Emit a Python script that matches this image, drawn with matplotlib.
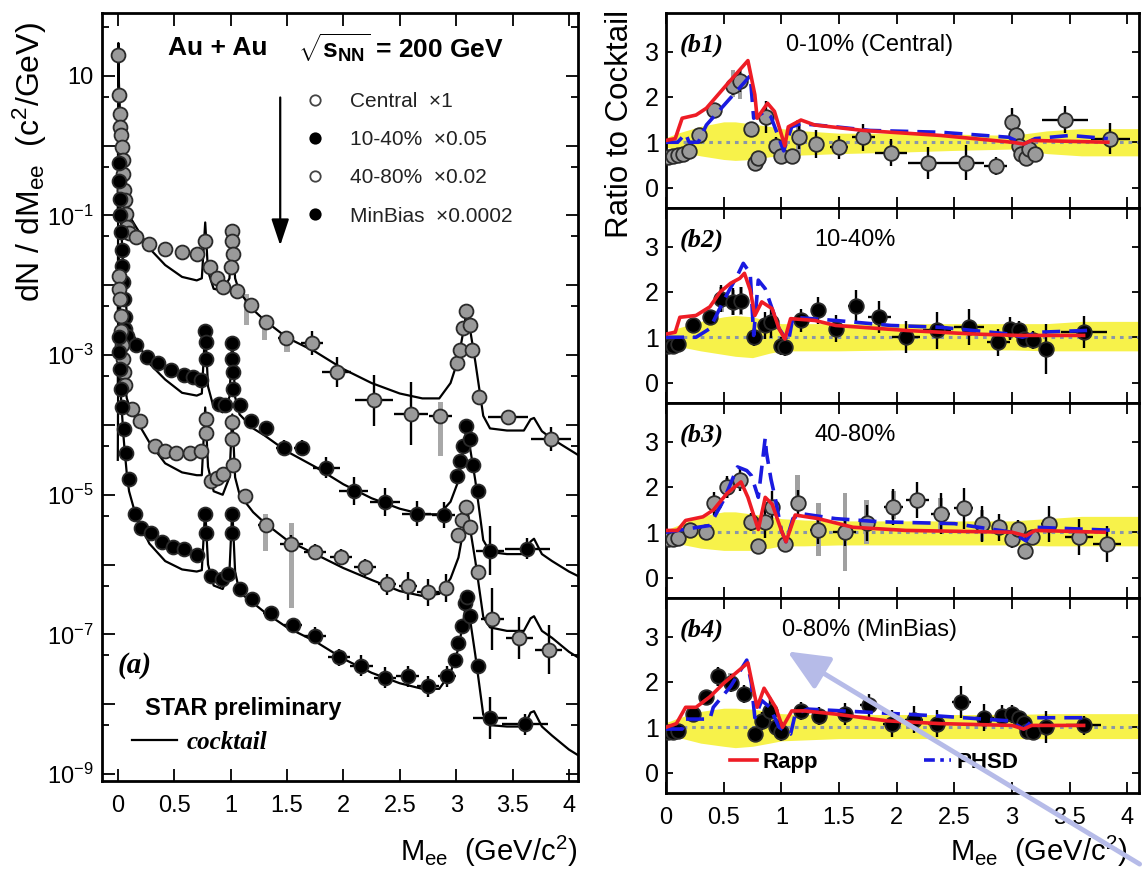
import numpy as np
import matplotlib
matplotlib.use('Agg')
import matplotlib.pyplot as plt
from matplotlib.ticker import FixedLocator, FuncFormatter, NullFormatter
from matplotlib.patches import FancyArrowPatch
from matplotlib.lines import Line2D
from matplotlib.font_manager import FontProperties

plt.rcParams['font.family'] = ['Liberation Sans', 'DejaVu Sans']
plt.rcParams['mathtext.fontset'] = 'custom'
plt.rcParams['mathtext.rm'] = 'Liberation Sans'
plt.rcParams['mathtext.it'] = 'Liberation Sans:italic'
plt.rcParams['mathtext.bf'] = 'Liberation Sans:bold'

# ---------------- panel (a): log10 of dN/dM_ee ----------------
central_x = [0.005, 0.012, 0.018, 0.024, 0.03, 0.036, 0.042, 0.05, 0.058, 0.066, 0.075, 0.085, 0.095,
             0.16, 0.28, 0.42, 0.57, 0.70, 0.775, 0.82, 0.88, 0.93, 1.01, 1.015, 1.02, 1.005, 1.06,
             1.18, 1.31, 1.49, 1.72, 1.94, 2.27, 2.60, 2.86,
             3.01, 3.03, 3.06, 3.09, 3.12, 3.14, 3.20, 3.46, 3.84]
central_log = [1.30, 0.73, 0.46, 0.27, 0.15, -0.02, -0.21, -0.40, -0.64, -0.78, -0.98, -1.17, -1.25,
               -1.31, -1.41, -1.48, -1.53, -1.55, -1.36, -1.74, -1.89, -2.03, -1.22, -1.36, -1.55, -1.74, -2.08,
               -2.28, -2.52, -2.76, -2.83, -3.24, -3.65, -3.84, -3.87,
               -3.12, -2.93, -2.61, -2.37, -2.57, -2.93, -3.60, -3.89, -4.20]
central_dx = [0] * 27 + [0.04, 0.05, 0.07, 0.10, 0.13, 0.17, 0.15, 0.10, 0, 0, 0, 0, 0, 0, 0.03, 0.18, 0.18]
central_dlog = [0] * 27 + [0.06, 0.08, 0.08, 0.17, 0.22, 0.36, 0.45, 0.08, 0, 0, 0, 0, 0, 0, 0.1, 0.1, 0.17]

semi_x = [0.008, 0.013, 0.018, 0.023, 0.028, 0.033, 0.038, 0.045, 0.052, 0.06, 0.068,
          0.08, 0.16, 0.26, 0.36, 0.47, 0.59, 0.67, 0.74, 0.775, 0.78, 0.785, 0.90, 0.95,
          1.01, 1.015, 1.02, 1.025, 1.08,
          1.18, 1.31, 1.47, 1.63, 1.85, 2.09, 2.37, 2.65, 2.89,
          3.01, 3.03, 3.06, 3.09, 3.12, 3.15, 3.19, 3.30, 3.63]
semi_log = [-0.25, -0.5, -0.77, -1.0, -1.24, -1.5, -1.72, -1.95, -2.2, -2.45, -2.63,
            -2.73, -2.86, -3.02, -3.12, -3.22, -3.29, -3.31, -3.36, -2.66, -2.81, -3.05, -3.70, -3.72,
            -2.83, -3.05, -3.24, -3.48, -3.72,
            -3.94, -4.04, -4.33, -4.33, -4.61, -4.95, -5.10, -5.27, -5.29,
            -4.73, -4.52, -4.30, -4.01, -4.20, -4.57, -4.95, -5.80, -5.77]
semi_dx = [0] * 29 + [0.04, 0.05, 0.07, 0.07, 0.12, 0.13, 0.13, 0.13, 0.10] + [0] * 7 + [0.12, 0.2]
semi_dlog = [0] * 29 + [0.08, 0.1, 0.12, 0.12, 0.15, 0.2, 0.2, 0.18, 0.18] + [0] * 7 + [0.35, 0.15]

periph_x = [0.008, 0.014, 0.02, 0.026, 0.032, 0.038, 0.045, 0.052, 0.065,
            0.13, 0.20, 0.33, 0.42, 0.52, 0.64, 0.74, 0.78, 0.785, 0.83, 0.88, 0.93, 1.01, 1.015, 1.02,
            1.13, 1.31, 1.54, 1.75, 1.98, 2.19, 2.39, 2.57, 2.75, 2.91,
            3.02, 3.05, 3.09, 3.12, 3.19, 3.32, 3.56, 3.82]
periph_log = [-1.87, -2.06, -2.2, -2.44, -2.65, -2.85, -3.05, -3.24, -3.43,
              -3.77, -3.94, -4.30, -4.37, -4.40, -4.40, -4.37, -3.92, -4.11, -4.81, -4.76, -4.71, -3.96, -4.2, -4.57,
              -5.02, -5.43, -5.70, -5.82, -5.89, -6.04, -6.28, -6.31, -6.40, -6.33,
              -5.58, -5.36, -5.17, -5.46, -6.11, -6.78, -7.05, -7.22]
periph_dx = [0] * 24 + [0.04, 0.07, 0.1, 0.1, 0.1, 0.1, 0.08, 0.08, 0.1, 0.05] + [0] * 5 + [0.1, 0.12, 0.12]
periph_dlog = [0] * 24 + [0.08, 0.1, 0.12, 0.12, 0.12, 0.12, 0.15, 0.2, 0.2, 0.2] + [0] * 5 + [0.45, 0.3, 0.35]

minb_x = [0.008, 0.015, 0.022, 0.03, 0.04, 0.055, 0.075, 0.1,
          0.15, 0.21, 0.29, 0.39, 0.49, 0.59, 0.70, 0.775, 0.78, 0.83, 0.92, 0.98, 1.01, 1.015,
          1.08, 1.19, 1.36, 1.55, 1.75, 1.96, 2.16, 2.37, 2.57, 2.75, 2.92,
          2.99, 3.02, 3.05, 3.08, 3.10, 3.12, 3.19, 3.30, 3.61]
minb_log = [-2.74, -2.95, -3.2, -3.48, -3.75, -4.06, -4.4, -4.78,
            -5.27, -5.48, -5.55, -5.67, -5.75, -5.77, -5.87, -5.27, -5.55, -6.16, -6.21, -6.14, -5.27, -5.55,
            -6.35, -6.50, -6.69, -6.86, -7.02, -7.33, -7.45, -7.62, -7.60, -7.74, -7.60,
            -7.36, -7.12, -6.88, -6.55, -6.47, -6.74, -7.45, -8.20, -8.29]
minb_dx = [0] * 22 + [0.03, 0.05, 0.07, 0.08, 0.1, 0.1, 0.1, 0.1, 0.1, 0.1, 0.08] + [0] * 7 + [0.15, 0.2]
minb_dlog = [0] * 22 + [0.06, 0.08, 0.1, 0.1, 0.12, 0.12, 0.15, 0.15, 0.15, 0.15, 0.15] + [0] * 7 + [0.3, 0.15]

# cocktail curves (log10), common mass grid
ck_x = [0.0, 0.005, 0.01, 0.02, 0.03, 0.04, 0.05, 0.06, 0.08, 0.1, 0.16, 0.28, 0.42, 0.57, 0.70, 0.745,
        0.775, 0.80, 0.85, 0.93, 0.99, 1.015, 1.04, 1.08, 1.2, 1.3, 1.5, 1.75, 2.0, 2.25, 2.5, 2.7,
        2.85, 2.95, 3.02, 3.07, 3.095, 3.12, 3.17, 3.24, 3.3, 3.45, 3.6, 3.66, 3.69, 3.76, 3.85, 4.0, 4.1]
ck_central = [-1.0, 1.47, 0.9, 0.45, 0.15, -0.1, -0.35, -0.55, -0.85, -1.0, -1.16, -1.47, -1.71, -1.88, -1.93, -1.90,
              -1.10, -1.80, -2.05, -2.08, -1.90, -1.20, -1.90, -2.10, -2.35, -2.50, -2.75, -2.95, -3.20, -3.40, -3.55, -3.62,
              -3.62, -3.40, -3.05, -2.60, -2.33, -2.60, -3.10, -3.87, -4.05, -4.08, -4.08, -3.92, -3.90, -4.09, -4.20, -4.35, -4.45]
ck_semi = [-2.5, -0.05, -0.3, -0.75, -1.15, -1.5, -1.8, -2.05, -2.4, -2.6, -2.78, -3.12, -3.35, -3.54, -3.58, -3.55,
           -2.62, -3.45, -3.75, -3.82, -3.6, -2.78, -3.6, -3.85, -4.05, -4.15, -4.38, -4.6, -4.85, -5.05, -5.2, -5.28,
           -5.28, -5.1, -4.8, -4.3, -4.0, -4.3, -4.8, -5.65, -5.82, -5.85, -5.85, -5.67, -5.63, -5.85, -5.95, -6.1, -6.18]
ck_periph = [-3.5, -1.6, -1.9, -2.3, -2.65, -2.95, -3.2, -3.4, -3.62, -3.72, -3.92, -4.25, -4.55, -4.68, -4.72, -4.72,
             -3.75, -4.6, -4.95, -5.0, -4.75, -3.85, -4.75, -5.0, -5.25, -5.4, -5.65, -5.85, -6.05, -6.22, -6.38, -6.45,
             -6.42, -6.2, -5.9, -5.45, -5.15, -5.45, -5.95, -6.75, -6.9, -6.95, -6.95, -6.77, -6.74, -6.95, -7.05, -7.25, -7.35]
ck_minb = [-4.5, -2.7, -3.0, -3.35, -3.65, -3.9, -4.15, -4.35, -4.7, -4.95, -5.3, -5.7, -5.95, -6.07, -6.1, -6.08,
           -5.2, -6.0, -6.3, -6.35, -6.1, -5.2, -6.1, -6.4, -6.55, -6.68, -6.9, -7.1, -7.35, -7.55, -7.7, -7.78,
           -7.78, -7.55, -7.2, -6.75, -6.45, -6.75, -7.3, -8.15, -8.3, -8.32, -8.32, -8.12, -8.1, -8.32, -8.45, -8.65, -8.75]

# systematic bars (log10 low / high)
sys_central_x = [1.14, 1.30, 1.50, 2.86]
sys_central_lo = [-2.57, -2.78, -2.95, -4.45]
sys_central_hi = [-2.13, -2.49, -2.71, -3.67]
sys_periph_x = [1.31, 1.54]
sys_periph_lo = [-5.8, -6.62]
sys_periph_hi = [-5.27, -5.41]

legend_labels = ['Central  \u00d71', '10-40%  \u00d70.05', '40-80%  \u00d70.02', 'MinBias  \u00d70.0002']

# ---------------- panels (b1)-(b4): ratio to cocktail ----------------
r1_x = [0.02, 0.06, 0.1, 0.15, 0.2, 0.29, 0.42, 0.58, 0.64, 0.74, 0.77, 0.80, 0.87, 0.95, 1.0, 1.09, 1.15, 1.30,
        1.5, 1.71, 1.95, 2.27, 2.6, 2.86, 3.0, 3.03, 3.06, 3.08, 3.12, 3.15, 3.2, 3.46, 3.85]
r1_y = [0.68, 0.69, 0.71, 0.73, 0.80, 1.15, 1.71, 2.24, 2.35, 1.3, 0.55, 0.65, 1.55, 0.92, 0.70, 0.70, 1.11, 0.96,
        0.89, 1.11, 0.77, 0.55, 0.55, 0.47, 1.45, 1.15, 0.92, 0.73, 0.65, 0.84, 0.73, 1.50, 1.08]
r1_dx = [0] * 16 + [0.03, 0.05, 0.08, 0.1, 0.14, 0.17, 0.16, 0.1] + [0] * 6 + [0.03, 0.2, 0.17]
r1_dy = [0.05, 0.05, 0.05, 0.05, 0.05, 0.1, 0.12, 0.2, 0.25, 0.15, 0.1, 0.1, 0.35, 0.2, 0.1, 0.15, 0.25, 0.3,
         0.25, 0.3, 0.3, 0.35, 0.38, 0.2, 0.3, 0.15, 0.1, 0.15, 0.15, 0.1, 0.15, 0.3, 0.35]

r2_x = [0.02, 0.06, 0.1, 0.23, 0.38, 0.48, 0.58, 0.65, 0.76, 0.86, 0.91, 1.0, 1.03, 1.17, 1.32, 1.47, 1.65, 1.85,
        2.08, 2.35, 2.63, 2.88, 2.98, 3.06, 3.1, 3.18, 3.29, 3.62]
r2_y = [0.81, 0.8, 0.85, 1.26, 1.44, 1.85, 1.78, 1.81, 1.0, 1.26, 1.33, 0.81, 0.78, 1.37, 1.59, 1.19, 1.7, 1.44,
        1.0, 1.15, 1.22, 0.89, 1.19, 1.15, 0.96, 0.93, 0.74, 1.11]
r2_dx = [0] * 13 + [0.05, 0.05, 0.05, 0.07, 0.1, 0.12, 0.12, 0.13, 0.1, 0, 0, 0, 0.03, 0.05, 0.2]
r2_dy = [0.05, 0.05, 0.05, 0.12, 0.15, 0.3, 0.3, 0.3, 0.2, 0.3, 0.35, 0.2, 0.2, 0.25, 0.3, 0.3, 0.35, 0.35,
         0.35, 0.4, 0.4, 0.3, 0.25, 0.2, 0.15, 0.2, 0.55, 0.35]

r3_x = [0.02, 0.06, 0.1, 0.21, 0.35, 0.42, 0.53, 0.64, 0.74, 0.8, 0.86, 0.92, 1.03, 1.14, 1.32, 1.55, 1.74, 1.97,
        2.18, 2.38, 2.58, 2.74, 2.89, 3.0, 3.05, 3.11, 3.17, 3.32, 3.58, 3.82]
r3_y = [0.85, 0.85, 0.88, 1.05, 1.0, 1.64, 2.0, 2.15, 1.23, 0.7, 1.23, 1.56, 0.74, 1.64, 1.05, 1.0, 1.2, 1.56,
        1.71, 1.41, 1.53, 1.18, 1.11, 0.85, 1.08, 0.59, 0.89, 1.18, 0.89, 0.74]
r3_dx = [0] * 13 + [0.05, 0.07, 0.1, 0.05, 0.08, 0.1, 0.08, 0.08, 0.05, 0.05, 0, 0, 0, 0, 0.07, 0.12, 0.12]
r3_dy = [0.05, 0.05, 0.05, 0.1, 0.1, 0.25, 0.25, 0.25, 0.2, 0.15, 0.35, 0.35, 0.15, 0.3, 0.3, 0.3, 0.4, 0.4,
         0.4, 0.45, 0.45, 0.4, 0.3, 0.2, 0.2, 0.15, 0.15, 0.4, 0.4, 0.4]

r4_x = [0.02, 0.06, 0.1, 0.23, 0.35, 0.45, 0.56, 0.68, 0.77, 0.83, 0.9, 0.95, 1.0, 1.17, 1.33, 1.55, 1.76, 1.96,
        2.15, 2.35, 2.56, 2.76, 2.91, 3.0, 3.06, 3.1, 3.13, 3.18, 3.29, 3.62]
r4_y = [0.89, 0.89, 0.92, 1.3, 1.67, 2.12, 1.97, 1.74, 0.85, 1.14, 1.36, 1.0, 0.89, 1.36, 1.25, 1.29, 1.48, 1.08,
        1.17, 1.08, 1.55, 1.21, 1.25, 1.29, 1.21, 1.1, 0.92, 0.89, 1.0, 1.04]
r4_dx = [0] * 13 + [0.05, 0.05, 0.07, 0.08, 0.08, 0.08, 0.08, 0.08, 0.08, 0.05, 0, 0, 0, 0, 0, 0.05, 0.15]
r4_dy = [0.05, 0.05, 0.05, 0.1, 0.15, 0.2, 0.2, 0.2, 0.15, 0.2, 0.3, 0.2, 0.2, 0.2, 0.2, 0.25, 0.25, 0.3,
         0.3, 0.3, 0.35, 0.3, 0.25, 0.2, 0.15, 0.1, 0.1, 0.15, 0.35, 0.2]

# systematic boxes (x, low, high)
s1_x, s1_lo, s1_hi = [0.58, 0.64, 1.15], [2.0, 1.95, 0.75], [2.6, 2.6, 1.5]
s2_x, s2_lo, s2_hi = [0.48, 0.58, 0.65], [1.55, 1.5, 1.5], [2.1, 2.05, 2.1]
s3_x = [0.53, 1.14, 1.32, 1.55, 1.74, 1.97, 2.38, 2.74]
s3_lo = [1.75, 1.47, 0.47, 0.14, 0.75, 1.3, 1.05, 0.8]
s3_hi = [2.2, 2.26, 1.64, 1.86, 1.7, 1.9, 1.75, 1.5]
s4_x, s4_lo, s4_hi = [0.45, 0.56], [1.9, 1.8], [2.3, 2.2]

# Rapp (red) and PHSD (blue) model ratios
rapp1_x = [0, 0.08, 0.14, 0.26, 0.35, 0.53, 0.71, 0.77, 0.79, 0.88, 0.94, 1.03, 1.06, 1.17, 1.29, 1.71, 2.38, 3.0, 3.1, 3.17, 3.83]
rapp1_y = [1.04, 1.08, 1.53, 1.6, 1.75, 2.28, 2.8, 2.05, 1.53, 1.86, 1.68, 0.92, 1.34, 1.49, 1.38, 1.26, 1.15, 1.0, 0.96, 1.04, 1.0]
phsd1_x = [0, 0.1, 0.17, 0.2, 0.28, 0.35, 0.56, 0.68, 0.73, 0.76, 0.86, 0.91, 1.02, 1.09, 1.17, 1.47, 1.77, 2.38, 2.97, 3.1, 3.2, 3.5, 3.83]
phsd1_y = [1.0, 1.0, 1.19, 1.0, 1.0, 1.38, 1.98, 2.32, 2.47, 1.53, 1.68, 1.56, 0.81, 1.34, 1.41, 1.34, 1.26, 1.22, 1.11, 0.96, 1.08, 1.15, 1.08]
rapp2_x = [0, 0.08, 0.12, 0.26, 0.38, 0.47, 0.56, 0.64, 0.68, 0.73, 0.77, 0.83, 0.92, 0.98, 1.03, 1.08, 1.29, 1.47, 2.08, 2.68, 3.05, 3.62]
rapp2_y = [1.07, 1.11, 1.44, 1.48, 1.67, 2.0, 2.19, 2.3, 2.41, 2.04, 1.48, 1.78, 1.63, 1.19, 0.96, 1.41, 1.37, 1.26, 1.15, 1.07, 1.04, 1.04]
phsd2_x = [0, 0.26, 0.38, 0.5, 0.62, 0.67, 0.73, 0.76, 0.8, 0.86, 0.92, 0.98, 1.06, 1.1, 1.47, 1.95, 2.38, 2.98, 3.09, 3.23, 3.65]
phsd2_y = [1.0, 1.0, 1.19, 1.81, 2.37, 2.63, 2.41, 1.04, 2.26, 2.07, 1.63, 1.19, 0.89, 1.44, 1.37, 1.26, 1.22, 1.07, 1.0, 1.11, 1.15]
rapp3_x = [0, 0.1, 0.17, 0.32, 0.41, 0.53, 0.65, 0.71, 0.8, 0.86, 0.92, 1.0, 1.04, 1.12, 1.32, 1.62, 2.08, 3.0, 3.12, 3.2, 3.8]
rapp3_y = [1.04, 1.04, 1.26, 1.34, 1.49, 1.86, 2.11, 1.77, 1.06, 1.77, 1.62, 1.04, 0.79, 1.38, 1.3, 1.11, 1.04, 1.0, 0.92, 1.04, 1.0]
phsd3_x = [0, 0.2, 0.38, 0.5, 0.62, 0.7, 0.74, 0.8, 0.86, 0.87, 0.91, 0.95, 1.0, 1.04, 1.1, 1.17, 1.47, 1.86, 2.5, 3.0, 3.12, 3.2, 3.9]
phsd3_y = [1.0, 1.08, 1.15, 1.71, 2.44, 2.36, 2.25, 1.77, 3.08, 2.77, 2.17, 1.71, 1.04, 0.79, 1.3, 1.41, 1.3, 1.23, 1.19, 1.0, 0.81, 1.11, 1.04]
rapp4_x = [0, 0.09, 0.17, 0.26, 0.38, 0.5, 0.71, 0.74, 0.79, 0.85, 0.95, 1.01, 1.09, 1.2, 1.47, 1.92, 2.38, 3.0, 3.1, 3.17, 3.62]
rapp4_y = [1.0, 1.08, 1.44, 1.44, 1.67, 1.97, 2.42, 2.05, 1.44, 1.86, 1.44, 1.0, 1.36, 1.36, 1.29, 1.14, 1.08, 1.04, 0.96, 1.04, 1.04]
phsd4_x = [0, 0.14, 0.17, 0.38, 0.41, 0.56, 0.7, 0.74, 0.77, 0.83, 0.9, 0.98, 1.08, 1.12, 1.23, 1.76, 2.35, 2.98, 3.1, 3.2, 3.65]
phsd4_y = [0.96, 0.96, 1.18, 1.18, 1.44, 1.9, 2.48, 1.97, 1.21, 1.59, 1.44, 1.0, 0.85, 1.29, 1.4, 1.33, 1.25, 1.14, 0.96, 1.21, 1.21]

# cocktail uncertainty bands
band_x = [0, 0.1, 0.3, 0.5, 0.6, 0.75, 0.9, 1.0, 1.2, 1.5, 2.0, 2.5, 3.0, 3.3, 3.6, 4.1]
band1_hi = [1.1, 1.2, 1.35, 1.45, 1.45, 1.4, 1.35, 1.3, 1.25, 1.2, 1.2, 1.18, 1.15, 1.25, 1.3, 1.3]
band1_lo = [0.9, 0.8, 0.7, 0.62, 0.6, 0.62, 0.68, 0.7, 0.72, 0.75, 0.78, 0.82, 0.85, 0.75, 0.7, 0.7]
band2_hi = [1.1, 1.2, 1.35, 1.45, 1.48, 1.45, 1.35, 1.3, 1.3, 1.3, 1.3, 1.3, 1.3, 1.3, 1.35, 1.35]
band2_lo = [0.9, 0.8, 0.7, 0.62, 0.58, 0.55, 0.65, 0.7, 0.7, 0.7, 0.72, 0.72, 0.72, 0.7, 0.7, 0.7]
band3_hi = [1.05, 1.15, 1.35, 1.45, 1.45, 1.4, 1.35, 1.3, 1.27, 1.25, 1.25, 1.25, 1.25, 1.3, 1.35, 1.35]
band3_lo = [0.85, 0.75, 0.65, 0.6, 0.6, 0.6, 0.65, 0.7, 0.7, 0.72, 0.72, 0.72, 0.72, 0.7, 0.7, 0.7]
band4_hi = [1.1, 1.2, 1.35, 1.42, 1.42, 1.4, 1.35, 1.3, 1.28, 1.28, 1.28, 1.28, 1.28, 1.3, 1.3, 1.3]
band4_lo = [0.88, 0.78, 0.65, 0.58, 0.55, 0.58, 0.65, 0.7, 0.72, 0.75, 0.75, 0.75, 0.75, 0.75, 0.75, 0.75]

panel_tags = ['(b1)', '(b2)', '(b3)', '(b4)']
panel_titles = ['0-10% (Central)', '10-40%', '40-80%', '0-80% (MinBias)']

# ---------------------------------------------------------------------------
GRAY = '#9a9a9a'
EDGE = '#2a2a2a'
SERIF_BI = dict(family='Liberation Serif', style='italic', weight='bold')

fig = plt.figure(figsize=(11.42, 8.69), dpi=100)
W, H = 1142.0, 869.0

axL = fig.add_axes([102 / W, 1 - 781 / H, (578 - 102) / W, (781 - 13) / H])
axL.set_yscale('log')
axL.set_xlim(-0.14, 4.08)
axL.set_ylim(10 ** -9.1, 10 ** 1.9)


def lin(v):
    return np.power(10.0, np.asarray(v, dtype=float))


# systematic bars
for sx, slo, shi in [(sys_central_x, sys_central_lo, sys_central_hi), (sys_periph_x, sys_periph_lo, sys_periph_hi)]:
    lo, hi = lin(slo), lin(shi)
    axL.bar(sx, hi - lo, bottom=lo, width=0.045, color='#a8a8a8', edgecolor='none', zorder=1)

ck_lines = []
for ck in [ck_central, ck_semi, ck_periph, ck_minb]:
    ln, = axL.plot(ck_x, lin(ck), color='black', lw=1.6, zorder=3)
    ck_lines.append(ln)

series = [(central_x, central_log, central_dx, central_dlog, GRAY),
          (semi_x, semi_log, semi_dx, semi_dlog, 'black'),
          (periph_x, periph_log, periph_dx, periph_dlog, GRAY),
          (minb_x, minb_log, minb_dx, minb_dlog, 'black')]
for sx, sl, sdx, sdl, col in series:
    y = lin(sl)
    d = np.asarray(sdl)
    axL.errorbar(sx, y, xerr=sdx, yerr=[y - y * 10 ** (-d), y * 10 ** d - y], fmt='none',
                 ecolor='black', elinewidth=1.7, capsize=0, zorder=4)
    axL.plot(sx, y, 'o', ms=10, mfc=col, mec=EDGE, mew=1.3, ls='none', zorder=5)

# axis formatting
axL.xaxis.set_major_locator(FixedLocator([0, 0.5, 1, 1.5, 2, 2.5, 3, 3.5, 4]))
axL.xaxis.set_major_formatter(FuncFormatter(lambda v, p: ('%g' % v)))
axL.yaxis.set_major_locator(FixedLocator([10.0 ** k for k in range(-9, 2)]))


def yfmt(v, p):
    k = int(round(np.log10(v)))
    if k % 2 == 0:
        return ''
    if k == 1:
        return '10'
    return r'$10^{%d}$' % k


axL.yaxis.set_major_formatter(FuncFormatter(yfmt))
axL.yaxis.set_minor_locator(FixedLocator([5 * 10.0 ** k for k in range(-10, 2)]))
axL.yaxis.set_minor_formatter(NullFormatter())
axL.tick_params(which='both', direction='in', top=True, right=True, labelsize=17, width=1.3)
axL.tick_params(which='major', length=9)
axL.tick_params(which='minor', length=5)
axL.tick_params(axis='x', pad=10)
axL.tick_params(axis='y', pad=6)
for s in axL.spines.values():
    s.set_linewidth(2)

axL.text(0.139, 0.954, 'Au + Au', transform=axL.transAxes, fontsize=19, fontweight='bold', va='center')
axL.text(0.412, 0.954, r'$\sqrt{\mathbf{s}_{\mathbf{NN}}}$' + ' = 200 GeV', transform=axL.transAxes,
         fontsize=19, fontweight='bold', va='center')
axL.annotate('', xy=(1.44, 10 ** -1.43), xytext=(1.44, 10 ** 0.69),
             arrowprops=dict(arrowstyle='-|>,head_length=0.9,head_width=0.3', color='black', lw=1.6,
                             mutation_scale=18, shrinkA=0, shrinkB=0))

handles = [Line2D([], [], marker='o', ls='none', ms=7.5, mfc='white', mec='#444444', mew=1.3),
           Line2D([], [], marker='o', ls='none', ms=7.5, mfc='black', mec='black', mew=1.3),
           Line2D([], [], marker='o', ls='none', ms=7.5, mfc='white', mec='#444444', mew=1.3),
           Line2D([], [], marker='o', ls='none', ms=7.5, mfc='black', mec='black', mew=1.3)]
leg = axL.legend(handles, legend_labels, loc='upper left', bbox_to_anchor=(0.426, 0.897), frameon=False,
                 fontsize=15, handlelength=1.0, handletextpad=1.15, labelspacing=0.92,
                 borderpad=0, borderaxespad=0)
for t in leg.get_texts():
    t.set_color('#222222')
axL.add_artist(leg)

axL.text(0.032, 0.151, '(a)', transform=axL.transAxes, fontsize=21, va='center', **SERIF_BI)
axL.text(0.09, 0.095, 'STAR preliminary', transform=axL.transAxes, fontsize=17, fontweight='bold', va='center')
leg2 = axL.legend([ck_lines[0]], ['cocktail'], loc='center left', bbox_to_anchor=(0.062, 0.05), frameon=False,
                  prop=FontProperties(size=18, **SERIF_BI), handlelength=1.8, handletextpad=0.4,
                  borderpad=0, borderaxespad=0)

fig.text(30 / W, 1 - 162 / H, r'dN / dM$_{\mathrm{ee}}$  (c$^{2}$/GeV)', rotation=90, fontsize=23,
         ha='center', va='center')
fig.text(489 / W, 1 - 851 / H, r'M$_{\mathrm{ee}}$  (GeV/c$^{2}$)', fontsize=21, ha='center', va='center')

# ---------------- right panels ----------------
rx0, rx1 = 666 / W, 1139 / W
rtop, rbot = 1 - 13 / H, 1 - 793 / H
ph = (rtop - rbot) / 4
ratio_pts = [(r1_x, r1_y, r1_dx, r1_dy, GRAY), (r2_x, r2_y, r2_dx, r2_dy, 'black'),
             (r3_x, r3_y, r3_dx, r3_dy, GRAY), (r4_x, r4_y, r4_dx, r4_dy, 'black')]
sys_boxes = [(s1_x, s1_lo, s1_hi), (s2_x, s2_lo, s2_hi), (s3_x, s3_lo, s3_hi), (s4_x, s4_lo, s4_hi)]
rapps = [(rapp1_x, rapp1_y), (rapp2_x, rapp2_y), (rapp3_x, rapp3_y), (rapp4_x, rapp4_y)]
phsds = [(phsd1_x, phsd1_y), (phsd2_x, phsd2_y), (phsd3_x, phsd3_y), (phsd4_x, phsd4_y)]
bands = [(band1_lo, band1_hi), (band2_lo, band2_hi), (band3_lo, band3_hi), (band4_lo, band4_hi)]

RED = '#ee1c25'
BLUE = '#1a1ae0'
for i in range(4):
    ax = fig.add_axes([rx0, rtop - (i + 1) * ph, rx1 - rx0, ph])
    ax.set_xlim(0, 4.1)
    ax.set_ylim(-0.45, 3.85)
    lo, hi = bands[i]
    ax.fill_between(band_x, lo, hi, color='#f7f24a', lw=0, zorder=1)
    ax.axhline(1.0, color='#8a96a8', ls=(0, (1.2, 1.6)), lw=2.2, zorder=2)
    bx, blo, bhi = sys_boxes[i]
    ax.bar(bx, np.asarray(bhi) - np.asarray(blo), bottom=blo, width=0.04, color='#a0a0a0', edgecolor='none', zorder=2)
    px, py, pdx, pdy, col = ratio_pts[i]
    ax.errorbar(px, py, xerr=pdx, yerr=pdy, fmt='none', ecolor='black', elinewidth=1.7, capsize=0, zorder=3)
    ax.plot(px, py, 'o', ms=10.5, mfc=col, mec=EDGE, mew=1.3, ls='none', zorder=4)
    lr, = ax.plot(*rapps[i], color=RED, lw=2.6, zorder=6)
    lp, = ax.plot(*phsds[i], color=BLUE, lw=2.6, ls=(0, (5, 2.5)), zorder=5)

    ax.xaxis.set_major_locator(FixedLocator([0, 0.5, 1, 1.5, 2, 2.5, 3, 3.5, 4]))
    ax.yaxis.set_major_locator(FixedLocator([0, 1, 2, 3]))
    ax.tick_params(direction='in', top=True, right=True, length=8, width=1.3, labelsize=17)
    ax.tick_params(axis='y', length=5, pad=5, labelsize=18)
    ax.tick_params(axis='x', pad=10)
    if i < 3:
        ax.tick_params(labelbottom=False)
    else:
        ax.xaxis.set_major_formatter(FuncFormatter(lambda v, p: ('%g' % v)))
    for s in ax.spines.values():
        s.set_linewidth(2)
    ax.text(0.03, 0.835, panel_tags[i], transform=ax.transAxes, fontsize=19, va='center', **SERIF_BI)
    cx = 0.43 if i in (0, 3) else 0.40
    ax.text(cx, 0.835, panel_titles[i], transform=ax.transAxes, fontsize=17, va='center', ha='center')
    if i == 3:
        ax.legend([lr, Line2D([], [], color=BLUE, lw=2.6, ls=(0, (3, 1.5, 1, 1.5)))], ['Rapp', 'PHSD'],
                  loc='center left', bbox_to_anchor=(0.135, 0.158), ncol=2, frameon=False,
                  prop=FontProperties(size=16, weight='bold'), handlelength=1.2, handletextpad=0.25,
                  columnspacing=4.8, borderpad=0, borderaxespad=0)

fig.text(620 / W, 1 - 124 / H, 'Ratio to Cocktail', rotation=90, fontsize=22.5, ha='center', va='center')
fig.text(1039 / W, 1 - 851 / H, r'M$_{\mathrm{ee}}$  (GeV/c$^{2}$)', fontsize=21, ha='center', va='center')

# overlay annotation arrow (light lavender)
arr = FancyArrowPatch((1.0, 0.004), (785 / W, 1 - 650 / H), transform=fig.transFigure,
                      arrowstyle='-|>,head_length=0.9,head_width=0.4', mutation_scale=28,
                      lw=3.5, color='#b6bbe8', zorder=20)
fig.add_artist(arr)

fig.savefig('out.png', dpi=100, facecolor='white')
